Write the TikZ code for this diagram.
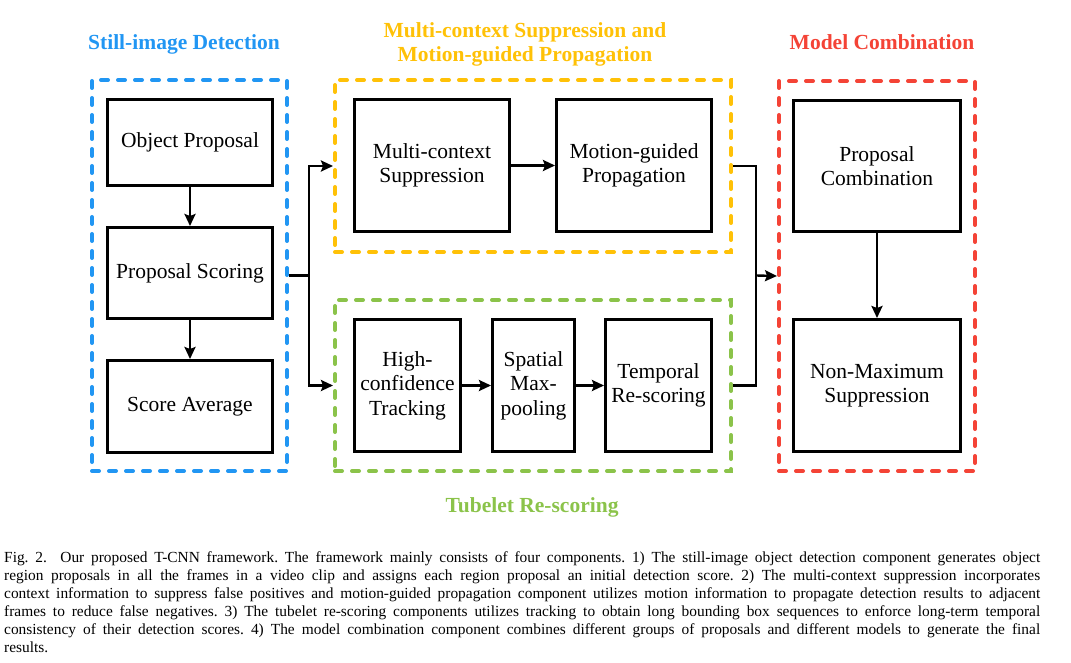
\documentclass[tikz,border=0pt]{standalone}
\usepackage{fontspec}
\setmainfont{Liberation Serif}
\usetikzlibrary{arrows.meta}
\definecolor{cblue}{RGB}{33,150,243}
\definecolor{cyellow}{RGB}{255,193,7}
\definecolor{cgreen}{RGB}{139,195,74}
\definecolor{cred}{RGB}{244,67,54}
\begin{document}
\begin{tikzpicture}[x=1pt,y=-1pt,
 blk/.style={draw,line width=3pt,fill=white,align=center,inner sep=0pt,font=\fontsize{21.5}{24.5}\selectfont},
 grp/.style={draw=#1,line width=4pt,dash pattern=on 7pt off 10pt,line cap=round,inner sep=0pt},
 ttl/.style={text=#1,font=\bfseries\fontsize{21.5}{24}\selectfont,inner sep=0pt,anchor=base},
 arr/.style={line width=2.4pt,-{Stealth[length=12pt,width=11pt,inset=2pt]}},
 conn/.style={line width=2.4pt}]
\useasboundingbox (0,0) rectangle (1071,663);
% group boxes
\node[grp=cblue,minimum width=195pt,minimum height=391pt] (blue) at (189.5,275.5) {};
\node[grp=cyellow,minimum width=396pt,minimum height=172pt] (yellow) at (533,166) {};
\node[grp=cgreen,minimum width=396pt,minimum height=171pt] (green) at (533,385.5) {};
\node[grp=cred,minimum width=196pt,minimum height=390pt] (red) at (877,276) {};
% titles
\node[ttl=cblue] (tblue) at (184,50) {Still-image Detection};
\node[ttl=cyellow] (tyellow1) at (525,38) {Multi-context Suppression and};
\node[ttl=cyellow] (tyellow2) at (525,62) {Motion-guided Propagation};
\node[ttl=cgreen] (tgreen) at (532,512) {Tubelet Re-scoring};
\node[ttl=cred] (tred) at (882,50) {Model Combination};
% blocks
\node[blk,minimum width=165pt,minimum height=86pt] (op) at (190,142.5) {Object Proposal};
\node[blk,minimum width=165pt,minimum height=91pt] (ps) at (190,273) {Proposal Scoring};
\node[blk,minimum width=165pt,minimum height=92pt] (sa) at (190,406.5) {Score Average};
\node[blk,minimum width=155pt,minimum height=132pt] (mcs) at (432,165.5) {Multi-context\\Suppression};
\node[blk,minimum width=155pt,minimum height=132pt] (mgp) at (634,165.5) {Motion-guided\\Propagation};
\node[blk,minimum width=106pt,minimum height=132pt] (hct) at (407.5,385.5) {High-\\confidence\\Tracking};
\node[blk,minimum width=82pt,minimum height=132pt] (smp) at (533.5,385.5) {Spatial\\Max-\\pooling};
\node[blk,minimum width=106pt,minimum height=132pt] (tr) at (658.5,385.5) {Temporal\\Re-scoring};
\node[blk,minimum width=167pt,minimum height=131pt] (pc) at (877,166) {Proposal\\Combination};
\node[blk,minimum width=167pt,minimum height=132pt] (nms) at (877,385.5) {Non-Maximum\\Suppression};
% connectors
\draw[arr] (op) -- (ps);
\draw[arr] (ps) -- (sa);
\draw[arr] (mcs) -- (mgp);
\draw[arr] (hct) -- (smp);
\draw[arr] (smp) -- (tr);
\draw[arr] (pc) -- (nms);
\coordinate (j1) at (309,275.5);
\coordinate (j2) at (756,275.5);
\draw[conn] (blue.east) -- (j1);
\draw[arr] (j1) |- (yellow.west);
\draw[arr] (j1) |- (green.west);
\draw[conn] (yellow.east) -| (j2) |- (green.east);
\draw[arr] (j2) -- (red.west);
% caption
\node[anchor=base west,inner sep=0pt] (cap) at (4,562) {\parbox[t]{1036pt}{\fontsize{15.4}{18}\selectfont\frenchspacing
\hbox to 1036pt{Fig. 2.\ \ Our proposed T-CNN framework. The framework mainly consists of four components. 1) The still-image object detection component generates object}
\hbox to 1036pt{region proposals in all the frames in a video clip and assigns each region proposal an initial detection score. 2) The multi-context suppression incorporates}
\hbox to 1036pt{context information to suppress false positives and motion-guided propagation component utilizes motion information to propagate detection results to adjacent}
\hbox to 1036pt{frames to reduce false negatives. 3) The tubelet re-scoring components utilizes tracking to obtain long bounding box sequences to enforce long-term temporal}
\hbox to 1036pt{consistency of their detection scores. 4) The model combination component combines different groups of proposals and different models to generate the final}
\hbox{results.}}};
\end{tikzpicture}
\end{document}
